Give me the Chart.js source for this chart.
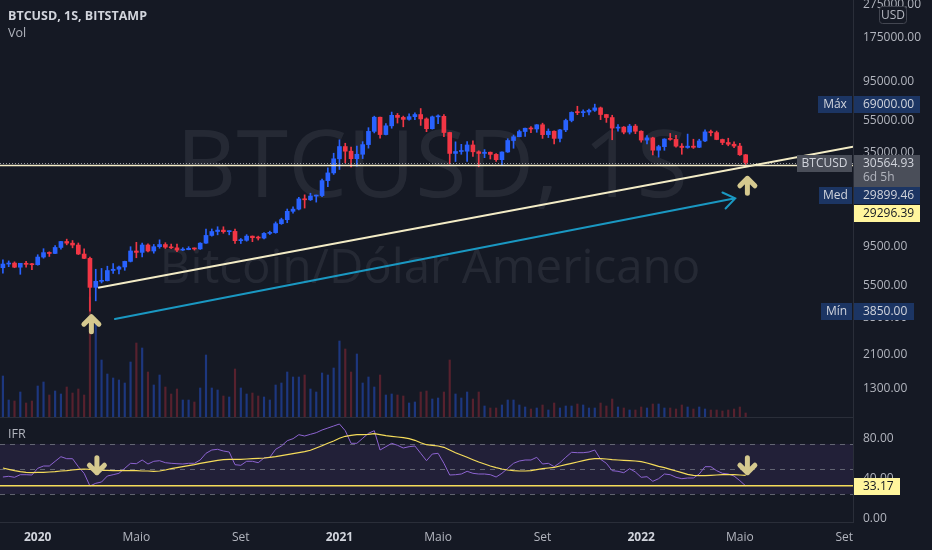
<!DOCTYPE html>
<html>
<head>
<meta charset="utf-8">
<script src="https://cdn.jsdelivr.net/npm/chart.js@4.4.1/dist/chart.umd.min.js"></script>
<style>
  html, body { margin: 0; padding: 0; background: #151924; }
  canvas { display: block; }
</style>
</head>
<body>
<canvas id="btcChart" width="932" height="550"></canvas>
<script>
// weekly candles, first week starts 2019-11-25, index 0..128
const open = [
  7050, 7420, 7520, 7100, 7500, 7390, 7350, 8180, 8700, 8600,
  9350, 10160, 9930, 9670, 8530, 8030, 5360, 5830, 5880, 6780,
  6900, 7120, 7700, 8900, 8730, 9680, 8900, 9450, 9740, 9390,
  9300, 9010, 9070, 9240, 9160, 9930, 11060, 11680, 11910, 11650,
  11700, 10280, 10330, 10950, 10720, 10660, 11380, 11500, 13030, 13780,
  15480, 15960, 18400, 18180, 19150, 19280, 23750, 26450, 32200, 38200,
  35800, 32260, 34300, 39250, 47200, 57500, 45150, 51000, 59050, 57350,
  55800, 57950, 59700, 56150, 49000, 57800, 58200, 46450, 34700, 35650,
  35800, 39050, 35500, 34700, 35290, 34250, 31800, 35400, 41550, 43800,
  47100, 49300, 48800, 51750, 45100, 47300, 42800, 48200, 54950, 61500,
  61300, 61800, 63300, 65500, 59700, 57250, 49400, 50100, 46700, 50800,
  47300, 41800, 43100, 36300, 38150, 42400, 42200, 38400, 37700, 38400,
  37800, 41300, 46850, 46400, 42150, 40400, 39450, 38450, 34060
];
const high = [
  7860, 7750, 7650, 7450, 7700, 7500, 8450, 9190, 8800, 9600,
  10200, 10500, 10300, 9950, 9180, 8180, 6900, 6980, 7200, 7470,
  7200, 7730, 9450, 10050, 9950, 9850, 9750, 10400, 9990, 9800,
  9790, 9320, 9450, 9300, 9990, 12100, 12100, 12480, 12480, 11800,
  12090, 10600, 11180, 10980, 10950, 11490, 11740, 13350, 14070, 15980,
  16490, 18820, 19480, 19920, 19420, 24300, 28400, 34800, 41950, 40000,
  37900, 38500, 40900, 49700, 58350, 57600, 52600, 61780, 60600, 58400,
  60200, 61200, 64900, 57000, 58450, 59500, 59600, 46650, 40800, 39400,
  40900, 41300, 36000, 36600, 35400, 34600, 35500, 42600, 44800, 48100,
  49400, 50500, 51900, 52900, 48850, 47500, 48500, 56000, 62000, 67000,
  63700, 64300, 69000, 66300, 59900, 59100, 51950, 50500, 52100, 52000,
  47600, 44450, 43500, 38900, 42600, 45850, 44700, 39800, 45450, 42300,
  42300, 48200, 48100, 47400, 42400, 42900, 40800, 40000, 34250
];
const low = [
  6530, 7150, 7050, 6430, 7100, 6850, 7300, 8050, 8250, 8560,
  9120, 9700, 9300, 8470, 8000, 3850, 4440, 5700, 5860, 6500,
  6470, 6800, 7640, 8100, 8200, 8800, 8630, 9250, 9220, 9200,
  8830, 8950, 9050, 9010, 9100, 9900, 10950, 11150, 11400, 11150,
  9880, 9880, 10200, 10140, 10370, 10530, 11200, 11400, 12900, 13200,
  15100, 15800, 16200, 18000, 17600, 19000, 21800, 25900, 27750, 30400,
  28800, 29100, 32300, 37350, 46200, 43000, 44950, 49300, 53000, 50300,
  55200, 55500, 51300, 47000, 48700, 52600, 43800, 30000, 31000, 34300,
  31000, 33300, 28800, 32700, 32100, 31000, 29300, 35200, 37300, 43700,
  43950, 46400, 46600, 42800, 43300, 39600, 40800, 47000, 53900, 59600,
  58000, 59450, 62300, 55600, 53500, 42000, 47300, 45600, 45500, 45700,
  40600, 39650, 34000, 32950, 36250, 41700, 37900, 34300, 37300, 37200,
  37600, 40900, 44300, 42000, 39200, 38600, 37600, 33700, 29730
];
const close = [
  7420, 7520, 7100, 7500, 7390, 7350, 8180, 8700, 8600, 9350,
  10160, 9930, 9670, 8530, 8030, 5360, 5830, 5880, 6780, 6900,
  7120, 7700, 8900, 8730, 9680, 8900, 9450, 9740, 9390, 9300,
  9010, 9070, 9240, 9160, 9930, 11060, 11680, 11910, 11650, 11700,
  10280, 10330, 10950, 10720, 10660, 11380, 11500, 13030, 13780, 15480,
  15960, 18400, 18180, 19150, 19280, 23750, 26450, 32200, 38200, 35800,
  32260, 34300, 39250, 47200, 57500, 45150, 51000, 59050, 57350, 55800,
  57950, 59700, 56150, 49000, 57800, 58200, 46450, 34700, 35650, 35800,
  39050, 35500, 34700, 35290, 34250, 31800, 35400, 41550, 43800, 47100,
  49300, 48800, 51750, 45100, 47300, 42800, 48200, 54950, 61500, 61300,
  61800, 63300, 65500, 59700, 57250, 49400, 50100, 46700, 50800, 47300,
  41800, 43100, 36300, 38150, 42400, 42200, 38400, 37700, 38400, 37800,
  41300, 46850, 46400, 42150, 40400, 39450, 38450, 34060, 30564.93
];
// volume, relative units
const volume = [
  41, 17, 16, 25, 14, 16, 31, 35, 22, 26,
  23, 30, 24, 28, 22, 120, 95, 57, 43, 39,
  37, 34, 55, 74, 69, 45, 32, 42, 30, 23,
  28, 17, 17, 15, 29, 62, 29, 27, 21, 20,
  48, 29, 23, 24, 21, 20, 17, 32, 34, 45,
  40, 40, 42, 28, 25, 44, 42, 49, 76, 68,
  45, 63, 34, 40, 30, 42, 22, 23, 22, 21,
  14, 15, 25, 26, 18, 19, 25, 57, 23, 19,
  25, 18, 25, 11, 9, 9, 12, 17, 17, 12,
  10, 8, 9, 12, 7, 14, 9, 11, 11, 13,
  12, 9, 9, 14, 11, 18, 10, 9, 7, 7,
  10, 9, 13, 13, 9, 9, 8, 12, 10, 8,
  10, 8, 7, 7, 6, 7, 8, 10, 4
];
// IFR (RSI) and its moving average
const rsi = [
  42, 42.7, 41.7, 44.3, 44.3, 44, 50.7, 53, 53, 57.7,
  62.3, 60.3, 60.3, 52.3, 45.7, 33, 35.7, 37, 43, 44.3,
  45.7, 50.7, 55.7, 55.3, 59, 55, 57.7, 58.3, 56.3, 55.7,
  55.3, 55, 55.7, 55.7, 59, 65.7, 69, 69.7, 68, 67,
  54.3, 53.7, 57.7, 57.7, 56.3, 61, 61.7, 69.7, 73, 78.3,
  80.3, 84.3, 83, 84.7, 86.3, 89, 91, 93, 95, 88.3,
  75.7, 75.7, 80.7, 85.7, 88.3, 69, 72.3, 75.7, 73.7, 71,
  72.3, 73, 65.7, 58.3, 65, 65.7, 55.7, 44, 44.3, 45,
  47.7, 45.7, 45, 45, 44.3, 42, 45.7, 50.7, 55.7, 58,
  59, 59, 61.7, 55, 55.7, 52.3, 56.3, 61.7, 66.7, 66.3,
  66.3, 67, 69, 59.7, 55.7, 48.3, 47.7, 46.3, 50.3, 47,
  41.7, 42.3, 37.7, 40.3, 45, 44.3, 41.7, 40.3, 41, 41,
  45, 52.3, 52.3, 48.3, 45.7, 45, 43, 38.3, 33.17
];
const rsiMa = [
  51, 49.7, 48.3, 47.3, 46.7, 46.3, 46.7, 46.7, 47, 47.3,
  48, 48.3, 49, 49.7, 50, 49.7, 49, 48.7, 48.7, 48.3,
  48.3, 48.3, 48.3, 48.3, 48, 48, 47.7, 48, 49, 50.3,
  51.3, 52.3, 53.3, 54.3, 55.7, 56.7, 57.7, 58.7, 59.3, 59.7,
  59.7, 59.7, 60, 60.3, 60.7, 61, 61.7, 62.3, 63.3, 64.3,
  65.3, 66.3, 67.3, 68.7, 71, 73.3, 75.7, 78, 80.7, 82.7,
  83.7, 84.3, 84.3, 84.7, 85.3, 84.3, 83.3, 82.7, 82, 81.3,
  80.3, 78.7, 76.3, 74.3, 73.7, 73, 71.7, 69, 66.3, 64,
  61.7, 59.3, 57, 55, 53, 51.3, 50, 49, 48.3, 48,
  48, 48.3, 49.3, 50.3, 51, 51.7, 53, 54.3, 55.7, 57,
  58.3, 59.7, 60.3, 60.3, 60, 59.3, 59, 58.7, 58.3, 58,
  57.3, 56, 54.3, 52.7, 51.3, 49.7, 48, 46.3, 44.7, 43.7,
  43.3, 43.3, 43.7, 44, 44.3, 44.3, 44.3, 44, 43.7
];

// axes
const timeTickIdx = [6, 23, 41, 58, 75, 93, 110, 127, 145];
const timeTickLabels = ['2020', 'Maio', 'Set', '2021', 'Maio', 'Set', '2022', 'Maio', 'Set'];
const priceTicks = [1300, 2100, 3500, 5500, 9500, 15000, 35000, 55000, 95000, 175000, 275000];
const rsiTicks = [0, 40, 80];
const rsiBands = [75, 50, 25];

// labels and drawings
const lastPrice = 30564.93;
const medPrice = 29899.46;
const levelPrice = 29296.39;
const timeLeft = '6d 5h';
const trendLine = { from: [16.4, 5330], to: [146.5, 38100] };
const blueArrow = { from: [19.3, 3446], to: [126.2, 18550] };
const upArrows = [[15.25, 3560], [128.3, 24530]];
const rsiDownArrows = [[16.2, 46.3], [128.3, 46.3]];

const BG = '#151924';
const UP = '#2962ff';
const DOWN = '#f23645';
const FONT = '"Open Sans", "Noto Sans", sans-serif';

const isUp = open.map((o, i) => close[i] >= o);
const candleColor = isUp.map(u => u ? UP : DOWN);
const volColor = isUp.map(u => u ? 'rgba(41,98,255,0.42)' : 'rgba(242,54,69,0.3)');

function hLine(ctx, x0, x1, yy) {
  ctx.beginPath();
  ctx.moveTo(x0, yy);
  ctx.lineTo(x1, yy);
  ctx.stroke();
}

function fitText(ctx, text, width, cx, baseY) {
  ctx.font = '100px ' + FONT;
  const size = 100 * width / ctx.measureText(text).width;
  ctx.font = size.toFixed(1) + 'px ' + FONT;
  ctx.fillText(text, cx, baseY);
}

function fatArrow(ctx, x, tipY, dir) {
  // dir -1: pointing up, 1: pointing down
  ctx.beginPath();
  ctx.moveTo(x, tipY);
  ctx.lineTo(x, tipY - dir * 15);
  ctx.moveTo(x - 7.5, tipY - dir * 7.5);
  ctx.lineTo(x, tipY);
  ctx.lineTo(x + 7.5, tipY - dir * 7.5);
  ctx.stroke();
}

function labelBox(ctx, x, y, w, h, bg, text, color, align) {
  ctx.fillStyle = bg;
  ctx.fillRect(x, y, w, h);
  ctx.fillStyle = color;
  ctx.textAlign = align || 'left';
  ctx.textBaseline = 'middle';
  const tx = align === 'center' ? x + w / 2 : x + 9;
  ctx.fillText(text, tx, y + 8.5);
}

const overlay = {
  id: 'overlay',
  beforeDraw(chart) {
    const { ctx, width, height } = chart;
    ctx.save();
    ctx.fillStyle = BG;
    ctx.fillRect(0, 0, width, height);
    ctx.restore();
  },
  beforeDatasetsDraw(chart) {
    const { ctx, chartArea: a, scales: { yr } } = chart;
    ctx.save();
    // watermark
    ctx.fillStyle = 'rgba(120,123,134,0.17)';
    ctx.textAlign = 'center';
    ctx.textBaseline = 'alphabetic';
    fitText(ctx, 'BTCUSD, 1S', 512, 432, 197);
    fitText(ctx, 'Bitcoin/Dólar Americano', 540, 430, 283);
    // IFR band
    const t = yr.getPixelForValue(rsiBands[0]);
    const b = yr.getPixelForValue(rsiBands[2]);
    ctx.fillStyle = 'rgba(126,87,194,0.13)';
    ctx.fillRect(a.left, t, a.right - a.left, b - t);
    ctx.strokeStyle = 'rgba(120,123,134,0.75)';
    ctx.lineWidth = 1;
    ctx.setLineDash([5, 5]);
    rsiBands.forEach(v => hLine(ctx, a.left, a.right, Math.round(yr.getPixelForValue(v)) + 0.5));
    ctx.restore();
  },
  afterDatasetsDraw(chart) {
    const { ctx, chartArea: a, scales: { x, y, yr } } = chart;
    const pt = (p, s) => [x.getPixelForValue(p[0]), s.getPixelForValue(p[1])];
    ctx.save();
    ctx.beginPath();
    ctx.rect(a.left, a.top, a.right - a.left, a.bottom - a.top);
    ctx.clip();

    // price line of the symbol (dotted) and the drawn level
    ctx.setLineDash([1, 2]);
    ctx.strokeStyle = '#9598a1';
    ctx.lineWidth = 1;
    hLine(ctx, a.left, a.right, Math.round(y.getPixelForValue(lastPrice)) + 0.5);
    ctx.setLineDash([]);
    ctx.strokeStyle = '#f3ecc6';
    ctx.lineWidth = 1.5;
    hLine(ctx, a.left, a.right, y.getPixelForValue(levelPrice));

    // trend line
    const t0 = pt(trendLine.from, y), t1 = pt(trendLine.to, y);
    ctx.lineWidth = 2;
    ctx.beginPath();
    ctx.moveTo(t0[0], t0[1]);
    ctx.lineTo(t1[0], t1[1]);
    ctx.stroke();

    // blue arrow
    const b0 = pt(blueArrow.from, y), b1 = pt(blueArrow.to, y);
    const ang = Math.atan2(b1[1] - b0[1], b1[0] - b0[0]);
    ctx.strokeStyle = '#1a98c2';
    ctx.lineWidth = 2;
    ctx.lineCap = 'round';
    ctx.beginPath();
    ctx.moveTo(b0[0], b0[1]);
    ctx.lineTo(b1[0], b1[1]);
    ctx.moveTo(b1[0] + 14 * Math.cos(ang + Math.PI - 0.62), b1[1] + 14 * Math.sin(ang + Math.PI - 0.62));
    ctx.lineTo(b1[0], b1[1]);
    ctx.lineTo(b1[0] + 14 * Math.cos(ang + Math.PI + 0.62), b1[1] + 14 * Math.sin(ang + Math.PI + 0.62));
    ctx.stroke();

    // arrows
    ctx.strokeStyle = '#d5c98f';
    ctx.lineWidth = 5;
    ctx.lineJoin = 'round';
    upArrows.forEach(p => { const q = pt(p, y); fatArrow(ctx, q[0], q[1], -1); });
    rsiDownArrows.forEach(p => { const q = pt(p, yr); fatArrow(ctx, q[0], q[1], 1); });

    // IFR level line
    ctx.strokeStyle = '#f5dc5a';
    ctx.lineWidth = 1.5;
    hLine(ctx, a.left, a.right, yr.getPixelForValue(rsi[rsi.length - 1]));
    ctx.restore();

    // pane separator
    ctx.save();
    ctx.fillStyle = '#2a2e39';
    ctx.fillRect(a.left, Math.round(y.bottom), a.right - a.left, 1);

    // legends
    ctx.textAlign = 'left';
    ctx.textBaseline = 'middle';
    ctx.fillStyle = '#d1d4dc';
    ctx.font = 'bold 12.5px ' + FONT;
    ctx.fillText('BTCUSD, 1S, BITSTAMP', 8, 16);
    ctx.font = '12.5px ' + FONT;
    ctx.fillStyle = '#b2b5be';
    ctx.fillText('Vol', 8, 33);
    ctx.fillText('IFR', 8, yr.top + 17);
    ctx.restore();
  },
  afterDraw(chart) {
    const { ctx, scales: { y, yr } } = chart;
    const NAVY = '#1c3563';
    const GREY = '#4a4e59';
    const LIGHT = '#d1d4dc';
    const YEL = '#fff59d';
    ctx.save();
    ctx.font = '12px ' + FONT;

    const maxY = Math.round(y.getPixelForValue(Math.max(...high)));
    labelBox(ctx, 818, maxY - 8, 34, 17, NAVY, 'Máx', LIGHT, 'center');
    labelBox(ctx, 854, maxY - 8, 66, 17, NAVY, Math.max(...high).toFixed(2), LIGHT);

    const lastY = Math.round(y.getPixelForValue(lastPrice));
    labelBox(ctx, 797, lastY - 8, 55, 17, GREY, 'BTCUSD', LIGHT, 'center');
    labelBox(ctx, 854, lastY - 8, 66, 32, GREY, lastPrice.toFixed(2), LIGHT);
    ctx.fillStyle = '#b2b5be';
    ctx.fillText(timeLeft, 863, lastY + 15);

    const medTop = lastY + 24;
    labelBox(ctx, 819, medTop, 33, 17, NAVY, 'Med', LIGHT, 'center');
    labelBox(ctx, 854, medTop, 66, 17, NAVY, medPrice.toFixed(2), LIGHT);
    labelBox(ctx, 854, medTop + 18, 66, 17, YEL, levelPrice.toFixed(2), '#131722');

    const minY = Math.round(y.getPixelForValue(Math.min(...low)));
    labelBox(ctx, 821, minY - 8, 31, 17, NAVY, 'Mín', LIGHT, 'center');
    labelBox(ctx, 854, minY - 8, 60, 17, NAVY, Math.min(...low).toFixed(2), LIGHT);

    const rsiY = Math.round(yr.getPixelForValue(rsi[rsi.length - 1]));
    labelBox(ctx, 854, rsiY - 8, 46, 17, YEL, rsi[rsi.length - 1].toFixed(2), '#131722');

    // currency badge
    ctx.fillStyle = BG;
    ctx.strokeStyle = '#434651';
    ctx.lineWidth = 1;
    ctx.beginPath();
    ctx.roundRect(879.5, 6.5, 27, 17, 3);
    ctx.fill();
    ctx.stroke();
    ctx.fillStyle = '#b2b5be';
    ctx.textAlign = 'center';
    ctx.textBaseline = 'middle';
    ctx.fillText('USD', 893, 15.5);
    ctx.restore();
  }
};

const idx = open.map((_, i) => i);
const fitRight = s => { s.width = 79; s.paddingTop = 0; s.paddingBottom = 0; };
const isYear = ctx => /^\d{4}$/.test(timeTickLabels[ctx.index] || '');

new Chart(document.getElementById('btcChart'), {
  type: 'bar',
  data: {
    datasets: [
      {
        label: 'Vol',
        yAxisID: 'yv',
        data: idx.map(i => ({ x: i, y: volume[i] })),
        backgroundColor: volColor,
        barThickness: 1.5,
        grouped: false,
        order: 5
      },
      {
        label: 'wick',
        yAxisID: 'y',
        data: idx.map(i => ({ x: i, y: [low[i], high[i]] })),
        backgroundColor: candleColor,
        barThickness: 1,
        grouped: false,
        order: 4
      },
      {
        label: 'body',
        yAxisID: 'y',
        data: idx.map(i => ({ x: i, y: [open[i], close[i]] })),
        backgroundColor: candleColor,
        barThickness: 4,
        minBarLength: 1,
        grouped: false,
        order: 3
      },
      {
        type: 'line',
        label: 'IFR',
        yAxisID: 'yr',
        data: idx.map(i => ({ x: i, y: rsi[i] })),
        borderColor: '#8c63d0',
        borderWidth: 1,
        pointRadius: 0,
        tension: 0,
        order: 2
      },
      {
        type: 'line',
        label: 'MA',
        yAxisID: 'yr',
        data: idx.map(i => ({ x: i, y: rsiMa[i] })),
        borderColor: '#f5dc5a',
        borderWidth: 1.2,
        pointRadius: 0,
        tension: 0,
        order: 1
      }
    ]
  },
  options: {
    responsive: false,
    animation: false,
    events: [],
    layout: { padding: 0 },
    plugins: { legend: { display: false }, tooltip: { enabled: false } },
    scales: {
      x: {
        type: 'linear',
        min: -0.5,
        max: 146.5,
        offset: false,
        grid: { display: false, drawTicks: false, offset: false },
        border: { color: '#2a2e39' },
        afterBuildTicks: s => { s.ticks = timeTickIdx.map(v => ({ value: v })); },
        afterFit: s => { s.height = 28; s.paddingLeft = 0; s.paddingRight = 0; },
        ticks: {
          autoSkip: false,
          maxRotation: 0,
          padding: 8,
          color: ctx => isYear(ctx) ? '#d1d4dc' : '#b2b5be',
          font: ctx => ({ family: FONT, size: 12, weight: isYear(ctx) ? 'bold' : 'normal' }),
          callback: (v, i) => timeTickLabels[i]
        }
      },
      y: {
        type: 'logarithmic',
        position: 'right',
        stack: 'panes',
        stackWeight: 417,
        min: 879,
        max: 294860,
        grid: { display: false, drawTicks: false },
        border: { color: '#2a2e39' },
        afterBuildTicks: s => { s.ticks = priceTicks.map(v => ({ value: v })); },
        afterFit: fitRight,
        ticks: {
          autoSkip: false,
          padding: 10,
          color: '#b2b5be',
          font: { family: FONT, size: 12 },
          callback: v => Number(v).toFixed(2)
        }
      },
      yr: {
        type: 'linear',
        position: 'right',
        stack: 'panes',
        stackWeight: 105,
        min: -3,
        max: 102,
        grid: { display: false, drawTicks: false },
        border: { color: '#2a2e39' },
        afterBuildTicks: s => { s.ticks = rsiTicks.map(v => ({ value: v })); },
        afterFit: fitRight,
        ticks: {
          autoSkip: false,
          padding: 10,
          color: '#b2b5be',
          font: { family: FONT, size: 12 },
          callback: v => Number(v).toFixed(2)
        }
      },
      yv: {
        type: 'linear',
        display: false,
        min: -105,
        max: 417
      }
    }
  },
  plugins: [overlay]
});
</script>
</body>
</html>
